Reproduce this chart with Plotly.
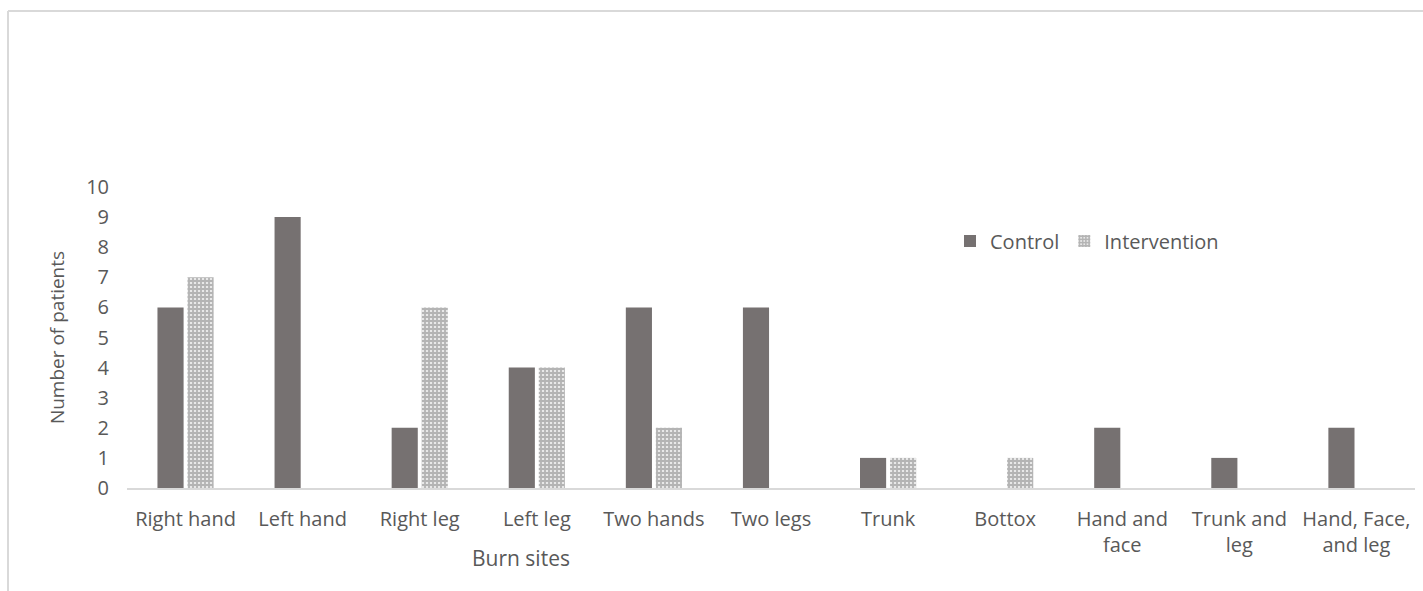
import plotly.graph_objects as go

categories = ["Right hand", "Left hand", "Right leg", "Left leg", "Two hands", "Two legs",
              "Trunk", "Bottox", "Hand and<br>face", "Trunk and<br>leg", "Hand, Face,<br>and leg"]
control = [6, 9, 2, 4, 6, 6, 1, 0, 2, 1, 2]
intervention = [7, 0, 6, 4, 2, 0, 1, 1, 0, 0, 0]
y_ticks = list(range(0, 11))

W, H = 1423, 591
L, R, T, B = 127, 8, 187, 103
pw, ph = W - L - R, H - T - B

def px(x):
    return (x - L) / pw

def py(y):
    return (H - B - y) / ph

TXT = "#595959"
FONT = "Open Sans"

fig = go.Figure()
fig.add_trace(go.Bar(
    x=categories, y=control, name="Control",
    marker=dict(color="#767171", line=dict(width=0)),
))
fig.add_trace(go.Bar(
    x=categories, y=intervention, name="Intervention",
    marker=dict(color="white", line=dict(width=0),
                pattern=dict(shape="+", fgcolor="#7f7f7f", bgcolor="#e8e8e8", size=4, solidity=0.7)),
))

fig.update_layout(
    width=W, height=H,
    margin=dict(l=L, r=R, t=T, b=B),
    paper_bgcolor="white", plot_bgcolor="white",
    barmode="group", bargap=0.487, bargroupgap=0.13,
    font=dict(family=FONT, size=20, color=TXT),
    showlegend=True,
    legend=dict(orientation="h", x=px(950), y=py(241), xanchor="left", yanchor="middle",
                font=dict(family=FONT, size=20, color=TXT), bgcolor="rgba(0,0,0,0)",
                itemwidth=30, traceorder="normal"),
    xaxis=dict(showgrid=False, showline=True, linecolor="#d9d9d9", linewidth=2,
               ticks="", ticklabelstandoff=12, tickfont=dict(size=20, color=TXT)),
    yaxis=dict(range=[0, 10], tickvals=y_ticks, showgrid=False, showline=False, zeroline=False,
               ticks="", ticklabelstandoff=17, tickfont=dict(size=20, color=TXT),
               title=dict(text="Number of patients", font=dict(size=19, color=TXT), standoff=16)),
    annotations=[
        dict(text="Burn sites", xref="paper", yref="paper", x=px(521), y=py(558),
             xanchor="center", yanchor="middle", showarrow=False,
             font=dict(family=FONT, size=21, color=TXT)),
    ],
    shapes=[
        dict(type="line", xref="paper", yref="paper", x0=px(8), x1=px(W + 5), y0=py(11), y1=py(11),
             line=dict(color="#d9d9d9", width=2)),
        dict(type="line", xref="paper", yref="paper", x0=px(8), x1=px(8), y0=py(11), y1=py(H + 5),
             line=dict(color="#d9d9d9", width=2)),
    ],
)

fig.write_html("out.html")
